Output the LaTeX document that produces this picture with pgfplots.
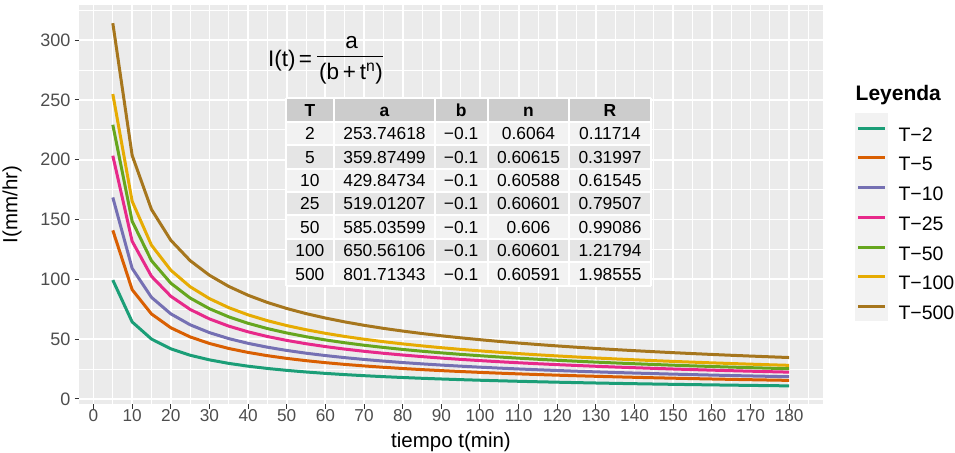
\documentclass[border=0pt]{standalone}
\usepackage{fontspec}
\setmainfont{Liberation Sans}
\usepackage{pgfplots}
\pgfplotsset{compat=1.18}

\definecolor{ggbg}{HTML}{EBEBEB}
\definecolor{keybg}{HTML}{F2F2F2}
\definecolor{hdrc}{HTML}{CCCCCC}
\definecolor{rowa}{HTML}{F2F2F2}
\definecolor{rowb}{HTML}{E5E5E5}
\definecolor{tickc}{HTML}{333333}
\definecolor{ticktxt}{HTML}{4D4D4D}
% Dark2
\definecolor{c2}{HTML}{1B9E77}
\definecolor{c5}{HTML}{D95F02}
\definecolor{c10}{HTML}{7570B3}
\definecolor{c25}{HTML}{E7298A}
\definecolor{c50}{HTML}{66A61E}
\definecolor{c100}{HTML}{E6AB02}
\definecolor{c500}{HTML}{A6761D}

\newcommand{\tabfont}{\fontsize{17.4bp}{20bp}\selectfont}
\newcommand{\fml}{\fontsize{22.5bp}{26bp}\selectfont}

\begin{document}
\begin{tikzpicture}
\useasboundingbox (0,0) rectangle (955bp,453bp);
\begin{axis}[
    at={(79bp,49bp)}, anchor=south west,
    scale only axis, width=744bp, height=399bp,
    xmin=-3.75, xmax=188.75, ymin=-4.23, ymax=329.4,
    xtick={0,10,...,180}, ytick={0,50,...,300},
    minor xtick={5,15,...,185}, minor ytick={25,75,...,325},
    grid=both,
    major grid style={white, line width=1.8bp},
    minor grid style={white, line width=0.9bp},
    axis background/.style={fill=ggbg},
    axis line style={draw=none},
    tick align=outside, tick pos=left,
    major tick length=4.5bp,
    major tick style={tickc, line width=1bp},
    minor tick style={draw=none},
    scaled ticks=false,
    /pgf/number format/assume math mode=true,
    xticklabel style={font=\fontsize{17.2bp}{20bp}\selectfont, text=ticktxt, inner sep=0pt, anchor=base, yshift=-13bp},
    yticklabel style={font=\fontsize{18bp}{20bp}\selectfont, text=ticktxt, inner sep=0pt, anchor=east, xshift=-4bp},
    xlabel={tiempo t(min)},
    ylabel={I(mm/hr)},
    xlabel style={font=\fontsize{20.5bp}{24bp}\selectfont, at={(axis description cs:0.5,-0.109)}, anchor=base, inner sep=0pt},
    ylabel style={font=\fontsize{20.5bp}{24bp}\selectfont, at={(axis description cs:-0.0901,0.5)}, anchor=center, inner sep=0pt},
    legend style={at={(axis description cs:1.0430,0.7282)}, anchor=north west,
        draw=none, fill=none, inner sep=0pt, outer sep=0pt,
        row sep=0pt, column sep=10.5bp,
        font=\fontsize{19.5bp}{22bp}\selectfont,
        nodes={inner sep=0pt}},
    legend cell align=left,
    legend image code/.code={
        \fill[keybg, draw=none] (0bp,-7.85bp) rectangle (33bp,21.85bp);
        \draw[line width=3bp] (3bp,7bp) -- (30bp,7bp);
    },
]
\addplot[color=c2, line width=3bp] coordinates {
(5,99.363)(10,64.400)(15,50.085)(20,41.935)(25,36.551)(30,32.676)(35,29.726)(40,27.389)(45,25.482)(50,23.890)(55,22.536)(60,21.368)(65,20.348)(70,19.446)(75,18.644)(80,17.923)(85,17.272)(90,16.680)(95,16.138)(100,15.641)(105,15.182)(110,14.758)(115,14.363)(120,13.995)(125,13.651)(130,13.329)(135,13.025)(140,12.740)(145,12.470)(150,12.215)(155,11.974)(160,11.744)(165,11.526)(170,11.319)(175,11.120)(180,10.931)
};
\addlegendentry{T−2}
\addplot[color=c5, line width=3bp] coordinates {
(5,140.98)(10,91.389)(15,71.082)(20,59.519)(25,51.881)(30,46.383)(35,42.197)(40,38.880)(45,36.174)(50,33.915)(55,31.994)(60,30.337)(65,28.888)(70,27.610)(75,26.471)(80,25.448)(85,24.524)(90,23.683)(95,22.915)(100,22.209)(105,21.558)(110,20.955)(115,20.395)(120,19.872)(125,19.384)(130,18.926)(135,18.496)(140,18.091)(145,17.708)(150,17.346)(155,17.003)(160,16.678)(165,16.368)(170,16.073)(175,15.792)(180,15.523)
};
\addlegendentry{T−5}
\addplot[color=c10, line width=3bp] coordinates {
(5,168.468)(10,109.227)(15,84.966)(20,71.150)(25,62.023)(30,55.453)(35,50.450)(40,46.487)(45,43.253)(50,40.553)(55,38.257)(60,36.276)(65,34.544)(70,33.016)(75,31.655)(80,30.432)(85,29.327)(90,28.322)(95,27.404)(100,26.560)(105,25.782)(110,25.061)(115,24.391)(120,23.767)(125,23.183)(130,22.636)(135,22.122)(140,21.637)(145,21.180)(150,20.747)(155,20.337)(160,19.948)(165,19.578)(170,19.225)(175,18.889)(180,18.568)
};
\addlegendentry{T−10}
\addplot[color=c25, line width=3bp] coordinates {
(5,203.373)(10,131.847)(15,102.557)(20,85.878)(25,74.859)(30,66.928)(35,60.889)(40,56.105)(45,52.201)(50,48.942)(55,46.170)(60,43.779)(65,41.689)(70,39.844)(75,38.201)(80,36.725)(85,35.392)(90,34.179)(95,33.070)(100,32.052)(105,31.112)(110,30.242)(115,29.434)(120,28.681)(125,27.976)(130,27.316)(135,26.695)(140,26.110)(145,25.558)(150,25.036)(155,24.541)(160,24.071)(165,23.624)(170,23.199)(175,22.793)(180,22.405)
};
\addlegendentry{T−25}
\addplot[color=c50, line width=3bp] coordinates {
(5,229.244)(10,148.620)(15,115.603)(20,96.802)(25,84.382)(30,75.442)(35,68.635)(40,63.242)(45,58.841)(50,55.168)(55,52.044)(60,49.348)(65,46.992)(70,44.913)(75,43.060)(80,41.397)(85,39.894)(90,38.527)(95,37.277)(100,36.129)(105,35.070)(110,34.090)(115,33.178)(120,32.329)(125,31.535)(130,30.790)(135,30.091)(140,29.431)(145,28.809)(150,28.220)(155,27.663)(160,27.133)(165,26.629)(170,26.150)(175,25.692)(180,25.255)
};
\addlegendentry{T−50}
\addplot[color=c100, line width=3bp] coordinates {
(5,254.920)(10,165.263)(15,128.551)(20,107.644)(25,93.833)(30,83.891)(35,76.322)(40,70.325)(45,65.431)(50,61.346)(55,57.873)(60,54.875)(65,52.256)(70,49.943)(75,47.883)(80,46.034)(85,44.362)(90,42.842)(95,41.452)(100,40.176)(105,38.998)(110,37.908)(115,36.894)(120,35.950)(125,35.067)(130,34.239)(135,33.461)(140,32.728)(145,32.036)(150,31.381)(155,30.761)(160,30.172)(165,29.612)(170,29.079)(175,28.570)(180,28.084)
};
\addlegendentry{T−100}
\addplot[color=c500, line width=3bp] coordinates {
(5,314.195)(10,203.706)(15,158.458)(20,132.691)(25,115.668)(30,103.415)(35,94.085)(40,86.693)(45,80.662)(50,75.627)(55,71.345)(60,67.650)(65,64.421)(70,61.571)(75,59.031)(80,56.752)(85,54.691)(90,52.817)(95,51.104)(100,49.531)(105,48.079)(110,46.735)(115,45.486)(120,44.322)(125,43.233)(130,42.213)(135,41.253)(140,40.350)(145,39.497)(150,38.690)(155,37.925)(160,37.199)(165,36.509)(170,35.851)(175,35.225)(180,34.626)
};
\addlegendentry{T−500}
\end{axis}

% annotations, in image pixel coordinates (y downwards)
\begin{scope}[x=1bp, y=-1bp, shift={(0,453)}, every node/.style={inner sep=0pt}]
  % legend title
  \node[anchor=base west, font=\bfseries\fontsize{21bp}{24bp}\selectfont] at (855.5,-352.3) {};
\end{scope}
\begin{scope}[x=1bp, y=-1bp, yshift=453bp, every node/.style={inner sep=0pt}]
  \node[anchor=base west, font=\bfseries\fontsize{21bp}{24bp}\selectfont] at (855.5,100.7) {Leyenda};

  % formula
  \node[anchor=base west, font=\fml] at (268,66.7) {I(t)};
  \node[anchor=base, font=\fml] at (305.4,66.7) {=};
  \node[anchor=base, font=\fml] at (351.7,48.3) {a};
  \draw[line width=1.1bp] (317.3,56.7) -- (383.3,56.7);
  \node[anchor=base, font=\fml] at (351,79.3) {(b\,+\,t\textsuperscript{n})};

  % table
  \fill[hdrc] (285.5,98.2) rectangle (650.5,121.65);
  \foreach \i in {1,...,7}{
    \pgfmathsetmacro\yt{98.2+\i*23.45}
    \pgfmathsetmacro\yb{98.2+(\i+1)*23.45}
    \ifodd\i
      \fill[rowa] (285.5,\yt) rectangle (650.5,\yb);
    \else
      \fill[rowb] (285.5,\yt) rectangle (650.5,\yb);
    \fi
  }
  \foreach \x in {285.5,334.2,434.7,487.5,569.4,650.5}
    \draw[white, line width=2bp] (\x,98.2) -- (\x,285.8);
  \foreach \i in {0,...,8}{
    \pgfmathsetmacro\yy{98.2+\i*23.45}
    \draw[white, line width=2bp] (285.5,\yy) -- (650.5,\yy);
  }
  \foreach \x/\t in {309.9/T, 384.5/a, 461.1/b, 528.5/n, 610/R}
    \node[anchor=base, font=\bfseries\tabfont] at (\x,116.1) {\t};
  \foreach \i/\T/\a/\n/\R in {1/2/253.74618/0.6064/0.11714,
                              2/5/359.87499/0.60615/0.31997,
                              3/10/429.84734/0.60588/0.61545,
                              4/25/519.01207/0.60601/0.79507,
                              5/50/585.03599/0.606/0.99086,
                              6/100/650.56106/0.60601/1.21794,
                              7/500/801.71343/0.60591/1.98555}{
    \pgfmathsetmacro\yb{98.2+(\i+0.5)*23.45+6.2}
    \node[anchor=base, font=\tabfont] at (309.9,\yb) {\T};
    \node[anchor=base, font=\tabfont] at (384.5,\yb) {\a};
    \node[anchor=base, font=\tabfont] at (461.1,\yb) {−0.1};
    \node[anchor=base, font=\tabfont] at (528.5,\yb) {\n};
    \node[anchor=base, font=\tabfont] at (610,\yb) {\R};
  }
\end{scope}
\end{tikzpicture}
\end{document}
